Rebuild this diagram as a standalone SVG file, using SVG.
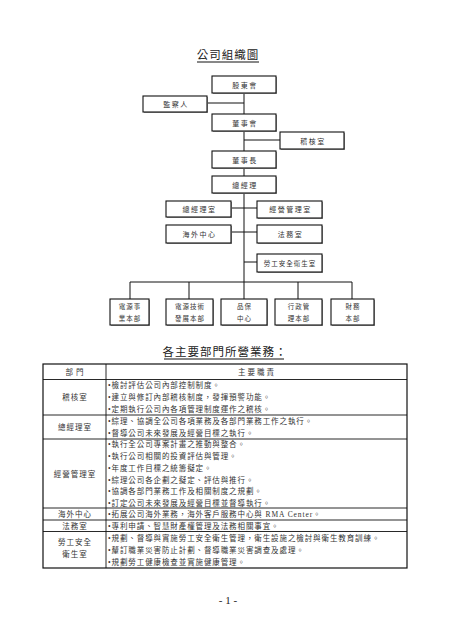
<svg xmlns="http://www.w3.org/2000/svg" width="452" height="640" viewBox="0 0 452 640">
<style>
text{font-family:"Liberation Serif","Noto Sans CJK TC",serif;fill:#222}
.t{font-size:11.5px;letter-spacing:1px;text-anchor:middle}
.b{font-size:7px;letter-spacing:1.5px;text-anchor:middle;fill:#333}
.s{font-size:6.5px;letter-spacing:1px;text-anchor:middle;fill:#333}
.box{fill:#fff;stroke:#111;stroke-width:1.1}
.sh{fill:#999}
.ln{stroke:#111;stroke-width:1;fill:none}
.tb{fill:none;stroke:#111;stroke-width:1.2}
.tl{stroke:#111;stroke-width:0.9}
.c{font-size:7.5px;letter-spacing:1px;text-anchor:middle;fill:#333}
.d{font-size:7.5px;letter-spacing:0.9px;fill:#333}
</style>
<rect width="452" height="640" fill="#fff"/>
<g id="title">
<text class="t" x="228" y="59">公司組織圖</text>
<line class="ln" x1="197" y1="62" x2="259" y2="62"/>
</g>
<g id="connectors">
<line class="ln" x1="244" y1="93" x2="244" y2="282"/>
<line class="ln" x1="208" y1="103" x2="244" y2="103"/>
<line class="ln" x1="244" y1="140" x2="280" y2="140"/>
<line class="ln" x1="231" y1="208" x2="257" y2="208"/>
<line class="ln" x1="231" y1="232" x2="257" y2="232"/>
<line class="ln" x1="244" y1="262" x2="257" y2="262"/>
<line class="ln" x1="130" y1="282" x2="352" y2="282"/>
<line class="ln" x1="130" y1="282" x2="130" y2="299"/>
<line class="ln" x1="189" y1="282" x2="189" y2="299"/>
<line class="ln" x1="244" y1="282" x2="244" y2="299"/>
<line class="ln" x1="298" y1="282" x2="298" y2="299"/>
<line class="ln" x1="352" y1="282" x2="352" y2="299"/>
</g>
<g id="n-gudonghui"><rect class="sh" x="213" y="77" width="64" height="17"/><rect class="box" x="212" y="76" width="64" height="17"/><text class="b" x="245" y="87.5">股東會</text></g>
<g id="n-jianchaoren"><rect class="sh" x="144" y="97" width="64" height="16"/><rect class="box" x="143" y="96" width="64" height="16"/><text class="b" x="176" y="107">監察人</text></g>
<g id="n-dongshihui"><rect class="sh" x="213" y="115" width="64" height="17"/><rect class="box" x="212" y="114" width="64" height="17"/><text class="b" x="245" y="125.5">董事會</text></g>
<g id="n-jihe"><rect class="sh" x="281" y="133" width="64" height="17"/><rect class="box" x="280" y="132" width="64" height="17"/><text class="b" x="313" y="143.5">稽核室</text></g>
<g id="n-dongshizhang"><rect class="sh" x="213" y="152" width="64" height="17"/><rect class="box" x="212" y="151" width="64" height="17"/><text class="b" x="245" y="162.5">董事長</text></g>
<g id="n-zongjingli"><rect class="sh" x="213" y="177" width="64" height="17"/><rect class="box" x="212" y="176" width="64" height="17"/><text class="b" x="245" y="187.5">總經理</text></g>
<g id="n-zongjinglishi"><rect class="sh" x="167" y="202" width="65" height="16"/><rect class="box" x="166" y="201" width="65" height="16"/><text class="b" x="199.5" y="211.5">總經理室</text></g>
<g id="n-jingying"><rect class="sh" x="258" y="202" width="65" height="17"/><rect class="box" x="257" y="201" width="65" height="17"/><text class="b" x="290.5" y="212">經營管理室</text></g>
<g id="n-haiwai"><rect class="sh" x="167" y="226" width="65" height="18"/><rect class="box" x="166" y="225" width="65" height="18"/><text class="b" x="199.5" y="236.5">海外中心</text></g>
<g id="n-fawu"><rect class="sh" x="258" y="226" width="65" height="18"/><rect class="box" x="257" y="225" width="65" height="18"/><text class="b" x="290.5" y="236.5">法務室</text></g>
<g id="n-laogong"><rect class="sh" x="258" y="255" width="65" height="18"/><rect class="box" x="257" y="254" width="65" height="18"/><text class="s" x="290" y="265.5">勞工安全衛生室</text></g>
<g id="n-dianyuan"><rect class="sh" x="111" y="300" width="39" height="26"/><rect class="box" x="110" y="299" width="39" height="26"/><text class="s" x="130" y="309">電源事</text><text class="s" x="130" y="320.5">業本部</text></g>
<g id="n-jishu"><rect class="sh" x="167" y="300" width="47" height="26"/><rect class="box" x="166" y="299" width="47" height="26"/><text class="s" x="190" y="309">電源技術</text><text class="s" x="190" y="320.5">發展本部</text></g>
<g id="n-pinbao"><rect class="sh" x="222" y="300" width="46" height="26"/><rect class="box" x="221" y="299" width="46" height="26"/><text class="s" x="244.5" y="309">品保</text><text class="s" x="244.5" y="320.5">中心</text></g>
<g id="n-xingzheng"><rect class="sh" x="276" y="300" width="47" height="26"/><rect class="box" x="275" y="299" width="47" height="26"/><text class="s" x="299" y="309">行政管</text><text class="s" x="299" y="320.5">理本部</text></g>
<g id="n-caiwu"><rect class="sh" x="332" y="300" width="43" height="26"/><rect class="box" x="331" y="299" width="43" height="26"/><text class="s" x="353" y="309">財務</text><text class="s" x="353" y="320.5">本部</text></g>
<g id="section-title">
<text class="t" x="225" y="356">各主要部門所營業務：</text>
<line class="ln" x1="164" y1="359" x2="284" y2="359"/>
</g>
<g id="table">
<rect class="tb" x="43" y="364" width="364" height="204"/>
<line class="tl" x1="106" y1="364" x2="106" y2="568"/>
<line class="tl" x1="43" y1="379.5" x2="407" y2="379.5"/>
<line class="tl" x1="43" y1="415" x2="407" y2="415"/>
<line class="tl" x1="43" y1="439" x2="407" y2="439"/>
<line class="tl" x1="43" y1="508" x2="407" y2="508"/>
<line class="tl" x1="43" y1="520" x2="407" y2="520"/>
<line class="tl" x1="43" y1="531.5" x2="407" y2="531.5"/>
<text class="c" x="76" y="374.5" style="letter-spacing:3px">部門</text>
<text class="c" x="257" y="374.5" style="letter-spacing:2px">主要職責</text>
<text class="c" x="75" y="400">稽核室</text>
<text class="d" x="108" y="388">•檢討評估公司內部控制制度。</text>
<text class="d" x="108" y="400">•建立與修訂內部稽核制度，發揮預警功能。</text>
<text class="d" x="108" y="412">•定期執行公司內各項管理制度運作之稽核。</text>
<text class="c" x="75" y="430">總經理室</text>
<text class="d" x="108" y="424">•綜理、協調全公司各項業務及各部門業務工作之執行。</text>
<text class="d" x="108" y="436">•督導公司未來發展及經營目標之執行。</text>
<text class="c" x="75" y="477">經營管理室</text>
<text class="d" x="108" y="447">•執行全公司專案計畫之推動與整合。</text>
<text class="d" x="108" y="459">•執行公司相關的投資評估與管理。</text>
<text class="d" x="108" y="471">•年度工作目標之統籌擬定。</text>
<text class="d" x="108" y="482.5">•綜理公司各企劃之擬定、評估與推行。</text>
<text class="d" x="108" y="494">•協調各部門業務工作及相關制度之規劃。</text>
<text class="d" x="108" y="505.5">•訂定公司未來發展及經營目標並督導執行。</text>
<text class="c" x="75" y="517">海外中心</text>
<text class="d" x="108" y="517">•拓展公司海外業務，海外客戶服務中心與 RMA Center。</text>
<text class="c" x="75" y="528.5">法務室</text>
<text class="d" x="108" y="528.5">•專利申請、智慧財產權管理及法務相關事宜。</text>
<text class="c" x="75" y="545">勞工安全</text>
<text class="c" x="75" y="557">衛生室</text>
<text class="d" x="108" y="541">•規劃、督導與實施勞工安全衛生管理，衛生設施之檢討與衛生教育訓練。</text>
<text class="d" x="108" y="553">•釐訂職業災害防止計劃、督導職業災害調查及處理。</text>
<text class="d" x="108" y="565">•規劃勞工健康檢查並實施健康管理。</text>
</g>
<text x="228" y="604" style="font-size:11px;text-anchor:middle">- 1 -</text>
</svg>
